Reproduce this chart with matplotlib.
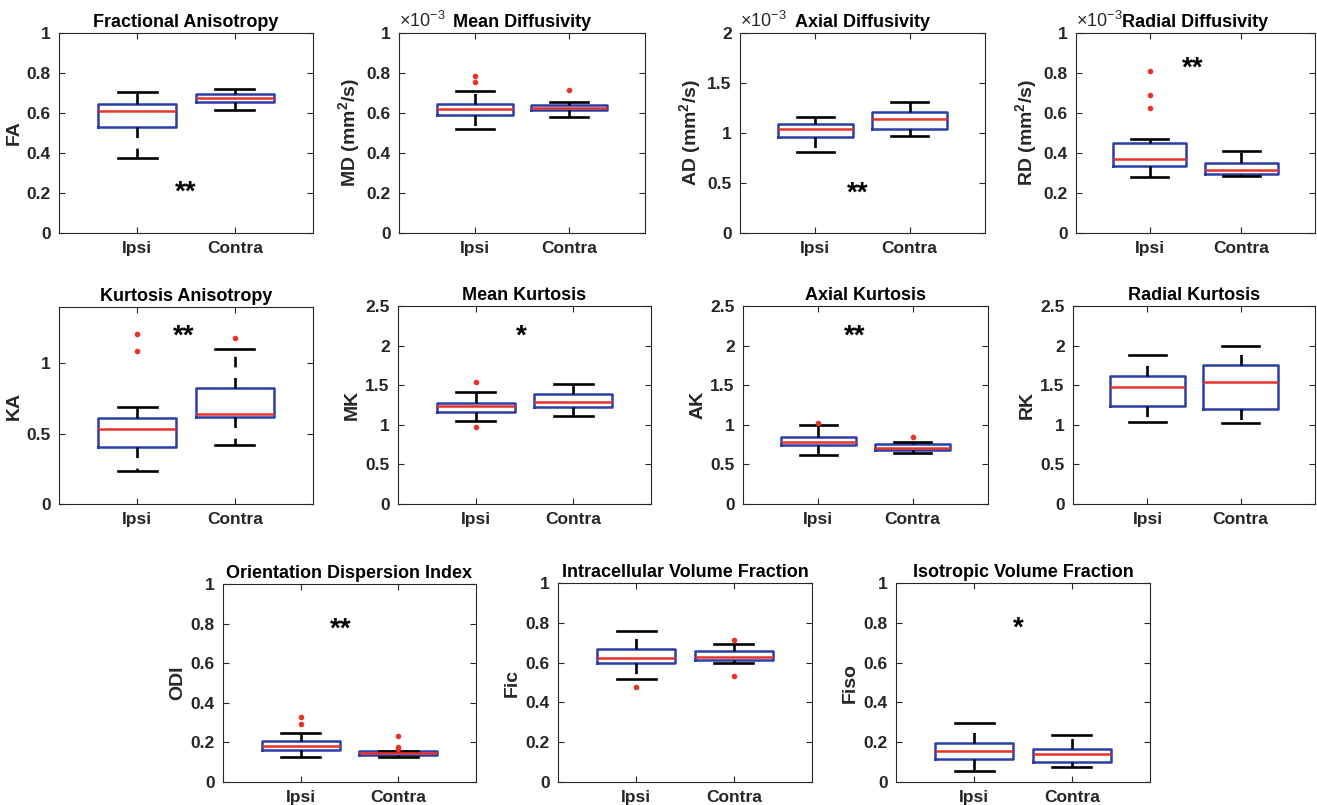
import numpy as np
import matplotlib.pyplot as plt
from matplotlib import rc

rc('font', **{'family': 'Liberation Sans', 'weight': 'bold', 'size': 12.5})
rc('mathtext', **{'default': 'regular'})

groups = ['Ipsi', 'Contra']

# each box: [whisker low, q1, median, q3, whisker high]
fa_stats = [[0.377, 0.532, 0.611, 0.643, 0.704], [0.614, 0.653, 0.673, 0.697, 0.719]]
fa_out = [[], []]
md_stats = [[0.522, 0.589, 0.621, 0.643, 0.710], [0.579, 0.613, 0.623, 0.640, 0.653]]
md_out = [[0.783, 0.756], [0.714]]
ad_stats = [[0.813, 0.958, 1.041, 1.090, 1.159], [0.968, 1.041, 1.135, 1.210, 1.310]]
ad_out = [[], []]
rd_stats = [[0.280, 0.336, 0.370, 0.449, 0.470], [0.284, 0.297, 0.314, 0.348, 0.411]]
rd_out = [[0.812, 0.691, 0.625], []]
ka_stats = [[0.238, 0.404, 0.531, 0.614, 0.690], [0.421, 0.619, 0.643, 0.821, 1.104]]
ka_out = [[1.207, 1.088], [1.183]]
mk_stats = [[1.044, 1.158, 1.239, 1.277, 1.420], [1.116, 1.222, 1.285, 1.394, 1.517]]
mk_out = [[1.542, 0.977], []]
ak_stats = [[0.613, 0.739, 0.782, 0.852, 0.996], [0.638, 0.676, 0.710, 0.752, 0.786]]
ak_out = [[1.021], [0.845]]
rk_stats = [[1.032, 1.243, 1.474, 1.613, 1.879], [1.024, 1.201, 1.537, 1.761, 1.998]]
rk_out = [[], []]
odi_stats = [[0.126, 0.163, 0.180, 0.209, 0.249], [0.126, 0.138, 0.148, 0.157, 0.158]]
odi_out = [[0.328, 0.291], [0.234, 0.177, 0.167]]
fic_stats = [[0.516, 0.600, 0.622, 0.668, 0.761], [0.599, 0.614, 0.630, 0.656, 0.691]]
fic_out = [[0.479], [0.713, 0.535]]
fiso_stats = [[0.054, 0.114, 0.155, 0.195, 0.296], [0.074, 0.103, 0.143, 0.165, 0.234]]
fiso_out = [[], []]

# title, ylabel, stats, outliers, ymax, yticks, significance, (x, y) of stars, x1e-3
panels = [
    ('Fractional Anisotropy', 'FA', fa_stats, fa_out, 1, [0, 0.2, 0.4, 0.6, 0.8, 1], '**', (1.5, 0.2), False),
    ('Mean Diffusivity', 'MD (mm$^2$/s)', md_stats, md_out, 1, [0, 0.2, 0.4, 0.6, 0.8, 1], '', None, True),
    ('Axial Diffusivity', 'AD (mm$^2$/s)', ad_stats, ad_out, 2, [0, 0.5, 1, 1.5, 2], '**', (1.45, 0.39), True),
    ('Radial Diffusivity', 'RD (mm$^2$/s)', rd_stats, rd_out, 1, [0, 0.2, 0.4, 0.6, 0.8, 1], '**', (1.47, 0.82), True),
    ('Kurtosis Anisotropy', 'KA', ka_stats, ka_out, 1.4, [0, 0.5, 1], '**', (1.48, 1.19), False),
    ('Mean Kurtosis', 'MK', mk_stats, mk_out, 2.5, [0, 0.5, 1, 1.5, 2, 2.5], '*', (1.47, 2.11), False),
    ('Axial Kurtosis', 'AK', ak_stats, ak_out, 2.5, [0, 0.5, 1, 1.5, 2, 2.5], '**', (1.39, 2.11), False),
    ('Radial Kurtosis', 'RK', rk_stats, rk_out, 2.5, [0, 0.5, 1, 1.5, 2, 2.5], '', None, False),
    ('Orientation Dispersion Index', 'ODI', odi_stats, odi_out, 1, [0, 0.2, 0.4, 0.6, 0.8, 1], '**', (1.41, 0.77), False),
    ('Intracellular Volume Fraction', 'Fic', fic_stats, fic_out, 1, [0, 0.2, 0.4, 0.6, 0.8, 1], '', None, False),
    ('Isotropic Volume Fraction', 'Fiso', fiso_stats, fiso_out, 1, [0, 0.2, 0.4, 0.6, 0.8, 1], '*', (1.45, 0.77), False),
]

# axes boxes in pixels: left, right, top, bottom
boxes_px = [
    (59, 313, 33, 233), (399, 645, 33, 233), (740, 985, 33, 233), (1076, 1315, 33, 233),
    (59, 313, 307, 504), (398, 651, 306, 504), (743, 988, 306, 504), (1073, 1315, 306, 504),
    (223, 476, 584, 782), (558, 812, 583, 782), (896, 1150, 583, 782),
]

W, H = 1317, 805
fig = plt.figure(figsize=(W / 100, H / 100), dpi=100)
grey = '#262626'

for (title, ylab, stats, outs, ymax, yt, sig, sigpos, sci), (l, r, t, b) in zip(panels, boxes_px):
    ax = fig.add_axes([l / W, 1 - b / H, (r - l) / W, (b - t) / H])
    bstats = []
    for s, o, name in zip(stats, outs, groups):
        bstats.append({'whislo': s[0], 'q1': s[1], 'med': s[2], 'q3': s[3],
                       'whishi': s[4], 'fliers': np.array(o), 'label': name})
    ax.bxp(bstats, positions=[1, 2], widths=0.8, capwidths=0.4,
           boxprops=dict(color='#2B3DA6', linewidth=1.8),
           medianprops=dict(color='#E8332A', linewidth=1.8),
           whiskerprops=dict(color='black', linewidth=1.9, linestyle=(0, (4, 4))),
           capprops=dict(color='black', linewidth=1.9),
           flierprops=dict(marker='.', markersize=6, markerfacecolor='#E8332A',
                           markeredgecolor='#E8332A', linestyle='none'))
    ax.set_xlim(0.2, 2.8)
    ax.set_ylim(0, ymax)
    ax.set_yticks(yt)
    ax.set_yticklabels(['%g' % v for v in yt])
    ax.set_xticks([1, 2])
    ax.set_xticklabels(groups)
    ax.tick_params(direction='in', top=True, right=True, length=4, width=0.8,
                   colors=grey, labelsize=12.5, pad=6)
    for sp in ax.spines.values():
        sp.set_color(grey)
        sp.set_linewidth(0.8)
    ax.set_title(title, fontsize=13, fontweight='bold', pad=4)
    ax.set_ylabel(ylab, fontsize=14, fontweight='bold', color=grey, labelpad=3)
    if sig:
        ax.text(sigpos[0], sigpos[1], sig, ha='center', va='center', fontsize=20,
                fontweight='bold', color='black')
    if sci:
        ax.text(0.0, 1.01, '\u00d710$^{-3}$', transform=ax.transAxes, ha='left',
                va='bottom', fontsize=13, fontweight='normal', color=grey)

fig.savefig('out.png', dpi=100)
